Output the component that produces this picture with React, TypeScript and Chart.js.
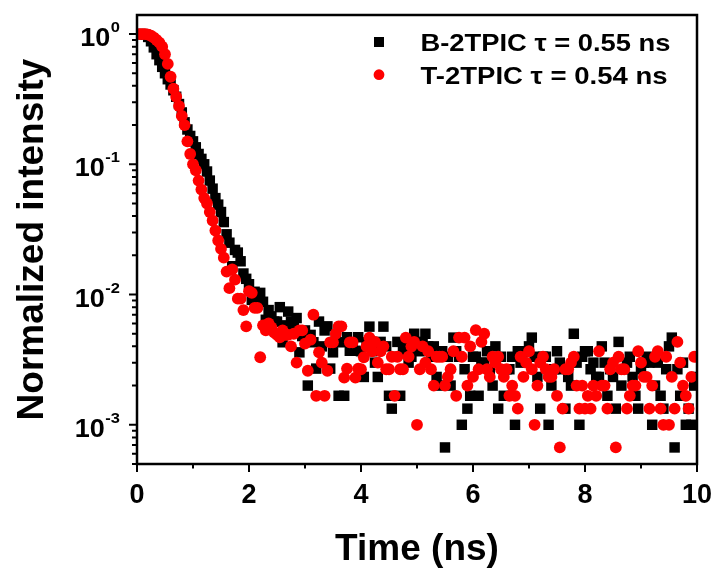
import React, { useEffect, useRef } from 'react';
import { Chart, registerables } from 'chart.js';

Chart.register(...registerables);

// Time axis: one channel every 0.05 ns, first channel at 0.05 ns
const TIME_STEP_NS = 0.05;

// B-2TPIC normalized decay (20 channels per ns)
const B_2TPIC = [
  1.0, 1.0, 0.99, 0.95, 0.88, 0.79, 0.7, 0.63, 0.56, 0.5, 0.45, 0.41, 0.37, 0.33, 0.29, 0.25, 0.21, 0.185, 0.165, 0.15,
  0.135, 0.12, 0.11, 0.1, 0.088, 0.075, 0.065, 0.055, 0.049, 0.043, 0.036, 0.029, 0.025, 0.0165, 0.022, 0.021, 0.018, 0.0145, 0.0132, 0.012,
  0.0091, 0.0105, 0.0095, 0.0103, 0.0088, 0.0064, 0.0076, 0.0068, 0.0062, 0.0062, 0.008, 0.0043, 0.0058, 0.0074, 0.0062, 0.0058, 0.0066, 0.0036, 0.0048, 0.0053,
  0.002, 0.0049, 0.0043, 0.0027, 0.0062, 0.004, 0.0053, 0.0057, 0.0027, 0.0036, 0.0047, 0.00167, 0.0043, 0.00167, 0.0047, 0.0037, 0.004, 0.0037, 0.0047, 0.00367,
  0.00233, 0.0043, 0.00567, 0.00367, 0.003, 0.00233, 0.00433, 0.00567, 0.004, 0.00167, 0.00133, 0.00333, 0.00433, 0.00167, 0.00367, 0.004, 0.003, 0.00333, 0.005, 0.004,
  0.00367, 0.00433, 0.005, 0.004, 0.00333, 0.004, 0.00233, 0.002, 0.00367, 0.00067, 0.00333, 0.002, 0.00467, 0.00367, 0.00333, 0.001, 0.00267, 0.00133, 0.00167, 0.00333,
  0.00333, 0.00167, 0.003, 0.003, 0.00367, 0.00267, 0.002, 0.004, 0.00133, 0.00333, 0.00167, 0.00267, 0.00267, 0.00333, 0.001, 0.00367, 0.003, 0.00367, 0.00367, 0.004,
  0.00467, 0.00333, 0.00233, 0.00133, 0.00333, 0.00333, 0.001, 0.002, 0.00267, 0.00367, 0.003, 0.00267, 0.00133, 0.00233, 0.002, 0.005, 0.003, 0.001, 0.00333, 0.00367,
  0.00367, 0.00267, 0.003, 0.00233, 0.00233, 0.004, 0.003, 0.00167, 0.00267, 0.00233, 0.00133, 0.00433, 0.002, 0.00267, 0.003, 0.00333, 0.00233, 0.00167, 0.00133, 0.00267,
  0.003, 0.00333, 0.003, 0.001, 0.002, 0.003, 0.00167, 0.00133, 0.00267, 0.004, 0.00467, 0.00067, 0.00267, 0.00167, 0.003, 0.001, 0.00133, 0.001, 0.002, 0.00233,
];

// T-2TPIC normalized decay
const T_2TPIC = [
  1.0, 1.0, 1.0, 0.99, 0.97, 0.94, 0.9, 0.86, 0.8, 0.7, 0.59, 0.47, 0.38, 0.33, 0.28, 0.235, 0.2, 0.15, 0.12, 0.1,
  0.09, 0.075, 0.064, 0.055, 0.05, 0.043, 0.037, 0.031, 0.026, 0.0224, 0.0192, 0.015, 0.0112, 0.0156, 0.013, 0.0093, 0.0093, 0.0076, 0.0057, 0.0106,
  0.0103, 0.0079, 0.0079, 0.0033, 0.0058, 0.0053, 0.006, 0.0056, 0.0051, 0.0049, 0.0047, 0.0053, 0.0049, 0.0049, 0.004, 0.005, 0.003, 0.0053, 0.0053, 0.0042,
  0.0026, 0.0045, 0.007, 0.00167, 0.0036, 0.003, 0.00167, 0.0026, 0.0043, 0.0043, 0.005, 0.0057, 0.0057, 0.0023, 0.0027, 0.0043, 0.0043, 0.0023, 0.0027, 0.00267,
  0.0033, 0.004, 0.00467, 0.00367, 0.00433, 0.003, 0.00367, 0.004, 0.00267, 0.00267, 0.00333, 0.00167, 0.00333, 0.00267, 0.00267, 0.00467, 0.00333, 0.004, 0.00433, 0.001,
  0.00267, 0.004, 0.003, 0.00367, 0.00267, 0.002, 0.00333, 0.00333, 0.00333, 0.002, 0.00233, 0.00267, 0.00367, 0.00167, 0.00467, 0.00333, 0.00467, 0.002, 0.004, 0.00233,
  0.00533, 0.00267, 0.00433, 0.005, 0.00267, 0.00233, 0.00333, 0.003, 0.00333, 0.00267, 0.00233, 0.00267, 0.00167, 0.002, 0.00167, 0.00133, 0.00333, 0.00233, 0.003, 0.00367,
  0.00267, 0.001, 0.002, 0.003, 0.00333, 0.00267, 0.00233, 0.00233, 0.00267, 0.00167, 0.00067, 0.00133, 0.00267, 0.00267, 0.003, 0.00333, 0.002, 0.00133, 0.002, 0.00133,
  0.00167, 0.00133, 0.002, 0.00167, 0.00367, 0.002, 0.002, 0.00133, 0.00267, 0.003, 0.00067, 0.00333, 0.00267, 0.00267, 0.00133, 0.00167, 0.002, 0.002, 0.00367, 0.003,
  0.00233, 0.00233, 0.00133, 0.002, 0.00333, 0.00367, 0.00133, 0.001, 0.00333, 0.001, 0.00233, 0.00133, 0.00433, 0.003, 0.002, 0.00167, 0.00133, 0.00233, 0.00333, 0.00333,
];

const SERIES_LABELS = ['B-2TPIC \u03c4 = 0.55 ns', 'T-2TPIC \u03c4 = 0.54 ns'];
const SERIES_COLORS = ['#000000', '#ff0000'];

const X_MIN = 0;
const X_MAX = 10;
const Y_MIN = 5e-4;
const Y_MAX = 1.4;
const X_MAJOR_TICKS = [0, 2, 4, 6, 8, 10];
const X_MINOR_TICKS = [1, 3, 5, 7, 9];
const Y_MAJOR_EXPONENTS = [0, -1, -2, -3];
const Y_MINOR_DECADES = [-4, -3, -2, -1];
const Y_MINOR_MULTIPLIERS = [2, 3, 4, 5, 6, 7, 8, 9];

const X_TITLE = 'Time (ns)';
const Y_TITLE = 'Normalized intensity';

const FONT = '"Liberation Sans", Arial, Helvetica, sans-serif';

function drawText(
  ctx: CanvasRenderingContext2D,
  s: string,
  x: number,
  y: number,
  font: string,
  align: CanvasTextAlign,
  sx = 1,
  rotate = 0,
) {
  ctx.save();
  ctx.font = font;
  ctx.fillStyle = '#000';
  ctx.textAlign = align;
  ctx.textBaseline = 'alphabetic';
  ctx.translate(x, y);
  if (rotate) ctx.rotate(rotate);
  ctx.scale(sx, 1);
  ctx.fillText(s, 0, 0);
  ctx.restore();
}

const decorPlugin = {
  id: 'decor',
  afterDraw(chart: any) {
    const ctx: CanvasRenderingContext2D = chart.ctx;
    const { left, right, top, bottom } = chart.chartArea;
    const xs = chart.scales.x;
    const ys = chart.scales.y;

    ctx.save();
    ctx.strokeStyle = '#000';
    // ticks
    ctx.lineWidth = 2;
    ctx.beginPath();
    X_MAJOR_TICKS.forEach((v) => {
      const px = xs.getPixelForValue(v);
      ctx.moveTo(px, bottom);
      ctx.lineTo(px, bottom + 8);
    });
    X_MINOR_TICKS.forEach((v) => {
      const px = xs.getPixelForValue(v);
      ctx.moveTo(px, bottom);
      ctx.lineTo(px, bottom + 4.5);
    });
    Y_MAJOR_EXPONENTS.forEach((e) => {
      const py = ys.getPixelForValue(Math.pow(10, e));
      ctx.moveTo(left - 8, py);
      ctx.lineTo(left, py);
    });
    Y_MINOR_DECADES.forEach((e) => {
      Y_MINOR_MULTIPLIERS.forEach((m) => {
        const v = m * Math.pow(10, e);
        if (v < Y_MIN || v > Y_MAX) return;
        const py = ys.getPixelForValue(v);
        ctx.moveTo(left - 5, py);
        ctx.lineTo(left, py);
      });
    });
    ctx.stroke();

    // frame
    ctx.lineWidth = 2.5;
    ctx.strokeRect(left, top, right - left, bottom - top);
    ctx.restore();

    // x tick labels
    X_MAJOR_TICKS.forEach((v) => {
      drawText(ctx, String(v), xs.getPixelForValue(v), 503, `bold 27px ${FONT}`, 'center');
    });

    // y tick labels 10^e
    const labelRight = 120;
    Y_MAJOR_EXPONENTS.forEach((e) => {
      const py = ys.getPixelForValue(Math.pow(10, e));
      const expStr = e === 0 ? '0' : '-' + String(-e);
      ctx.save();
      ctx.font = `bold 15px ${FONT}`;
      const expW = ctx.measureText(expStr).width * 1.1;
      ctx.restore();
      drawText(ctx, expStr, labelRight, py - 2, `bold 15px ${FONT}`, 'right', 1.1);
      drawText(ctx, '10', labelRight - expW - 0.5, py + 12, `bold 25px ${FONT}`, 'right', 1.08);
    });

    // axis titles
    drawText(ctx, X_TITLE, (left + right) / 2, 560, `bold 37px ${FONT}`, 'center');
    drawText(ctx, Y_TITLE, 43, (top + bottom) / 2, `bold 37px ${FONT}`, 'center', 1, -Math.PI / 2);

    // legend
    const legendSymbolX = 379;
    const legendTextX = 420.5;
    const baselines = [50.5, 83.5];
    const symbolYs = [42, 74.7];
    ctx.save();
    ctx.fillStyle = SERIES_COLORS[0];
    ctx.fillRect(legendSymbolX - 5, symbolYs[0] - 5, 10, 10);
    ctx.fillStyle = SERIES_COLORS[1];
    ctx.beginPath();
    ctx.arc(legendSymbolX, symbolYs[1], 5.4, 0, Math.PI * 2);
    ctx.fill();
    ctx.restore();
    SERIES_LABELS.forEach((lab, i) => {
      ctx.save();
      ctx.font = `bold 24px ${FONT}`;
      const w = ctx.measureText(lab).width;
      ctx.restore();
      const target = i === 0 ? 250 : 247;
      drawText(ctx, lab, legendTextX, baselines[i], `bold 24px ${FONT}`, 'left', target / w);
    });
  },
};

export default function App() {
  const canvasRef = useRef<HTMLCanvasElement | null>(null);

  useEffect(() => {
    const canvas = canvasRef.current;
    if (!canvas) return;
    const toPoints = (arr: number[]) => arr.map((y, i) => ({ x: (i + 1) * TIME_STEP_NS, y }));

    const chart = new Chart(canvas, {
      type: 'scatter',
      data: {
        datasets: [
          {
            label: SERIES_LABELS[0],
            data: toPoints(B_2TPIC),
            pointStyle: 'rect',
            pointRadius: 7.4,
            pointHoverRadius: 7.4,
            backgroundColor: SERIES_COLORS[0],
            borderWidth: 0,
            order: 2,
            clip: 0,
          } as any,
          {
            label: SERIES_LABELS[1],
            data: toPoints(T_2TPIC),
            pointStyle: 'circle',
            pointRadius: 5.9,
            pointHoverRadius: 5.9,
            backgroundColor: SERIES_COLORS[1],
            borderWidth: 0,
            order: 1,
            clip: 0,
          } as any,
        ],
      },
      options: {
        animation: false,
        responsive: false,
        devicePixelRatio: 1,
        events: [],
        layout: { padding: { top: 15, right: 20, left: 0, bottom: 0 } },
        plugins: { legend: { display: false }, tooltip: { enabled: false } },
        scales: {
          x: {
            type: 'linear',
            min: X_MIN,
            max: X_MAX,
            grid: { display: false },
            border: { display: false },
            ticks: { display: false },
            afterFit: (s: any) => {
              s.height = 106;
            },
          },
          y: {
            type: 'logarithmic',
            min: Y_MIN,
            max: Y_MAX,
            grid: { display: false },
            border: { display: false },
            ticks: { display: false },
            afterFit: (s: any) => {
              s.width = 137;
            },
          },
        },
      } as any,
      plugins: [decorPlugin],
    });

    return () => {
      chart.destroy();
    };
  }, []);

  return (
    <div style={{ position: 'absolute', left: 0, top: 0, width: 717, height: 570, background: '#fff' }}>
      <canvas ref={canvasRef} width={717} height={570} style={{ display: 'block' }} />
    </div>
  );
}
